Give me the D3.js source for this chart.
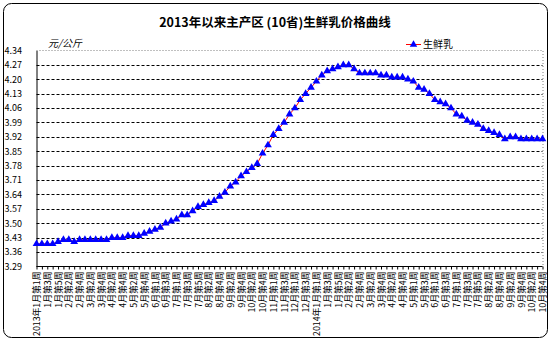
<!DOCTYPE html>
<html><head><meta charset="utf-8">
<script src="https://cdn.jsdelivr.net/npm/d3@7"></script>
<style>body{margin:0;background:#fff}svg{display:block}text{font-family:"Noto Sans CJK SC","DejaVu Sans",sans-serif}</style>
</head><body><svg id="c" width="553" height="341"></svg>
<script>
const title = "2013年以来主产区 (10省)生鲜乳价格曲线";
const unitLabel = "元/公斤";
const seriesName = "生鲜乳";
const yTicks = [3.29,3.36,3.43,3.50,3.57,3.64,3.71,3.78,3.85,3.92,3.99,4.06,4.13,4.20,4.27,4.34];
const weeks = [
"2013年1月第1周","1月第2周","1月第3周","1月第4周","1月第5周",
"2月第1周","2月第2周","2月第3周","2月第4周",
"3月第1周","3月第2周","3月第3周","3月第4周",
"4月第1周","4月第2周","4月第3周","4月第4周",
"5月第1周","5月第2周","5月第3周","5月第4周","5月第5周",
"6月第1周","6月第2周","6月第3周","6月第4周",
"7月第1周","7月第2周","7月第3周","7月第4周","7月第5周",
"8月第1周","8月第2周","8月第3周","8月第4周",
"9月第1周","9月第2周","9月第3周","9月第4周",
"10月第1周","10月第2周","10月第3周","10月第4周","10月第5周",
"11月第1周","11月第2周","11月第3周","11月第4周",
"12月第1周","12月第2周","12月第3周","12月第4周",
"2014年1月第1周","1月第2周","1月第3周","1月第4周","1月第5周",
"2月第1周","2月第2周","2月第3周","2月第4周",
"3月第1周","3月第2周","3月第3周","3月第4周",
"4月第1周","4月第2周","4月第3周","4月第4周","4月第5周",
"5月第1周","5月第2周","5月第3周","5月第4周",
"6月第1周","6月第2周","6月第3周","6月第4周",
"7月第1周","7月第2周","7月第3周","7月第4周","7月第5周",
"8月第1周","8月第2周","8月第3周","8月第4周",
"9月第1周","9月第2周","9月第3周","9月第4周",
"10月第1周","10月第2周","10月第3周","10月第4周"
];
const prices = [
3.40,3.40,3.40,3.40,3.41,3.42,3.42,3.41,3.42,3.42,
3.42,3.42,3.42,3.42,3.43,3.43,3.43,3.44,3.44,3.44,
3.45,3.46,3.47,3.48,3.50,3.51,3.52,3.54,3.54,3.56,
3.58,3.59,3.60,3.61,3.63,3.65,3.68,3.70,3.73,3.75,
3.77,3.79,3.84,3.88,3.93,3.96,3.99,4.03,4.06,4.10,
4.13,4.16,4.19,4.22,4.24,4.25,4.26,4.27,4.27,4.25,
4.23,4.23,4.23,4.23,4.22,4.22,4.21,4.21,4.21,4.20,
4.19,4.16,4.15,4.13,4.10,4.09,4.08,4.06,4.03,4.02,
4.00,3.99,3.98,3.96,3.95,3.94,3.93,3.91,3.92,3.92,
3.91,3.91,3.91,3.91,3.91
];

const svg = d3.select("#c");
const L = 36.5, R = 542.5, T = 50.5, B = 266.5;
const idx = d3.range(weeks.length);
const x = d3.scalePoint().domain(idx).range([L, R]);
const y = d3.scaleLinear().domain([3.29, 4.34]).range([B, T]);

// outer rounded frame
svg.append("rect").attr("x",3.5).attr("y",3.5).attr("width",544).attr("height",334)
  .attr("rx",8).attr("fill","#fff").attr("stroke","#000").attr("stroke-width",1);

// title
svg.append("text").attr("x",275).attr("y",27).attr("text-anchor","middle")
  .attr("font-size",12.5).attr("font-weight","bold").text(title);

// unit
svg.append("text").attr("x",48).attr("y",47).attr("font-size",10).attr("font-style","italic").text(unitLabel);

// legend
svg.append("line").attr("x1",406).attr("x2",421).attr("y1",44.5).attr("y2",44.5).attr("stroke","#f00");
svg.append("path").attr("d",d3.symbol(d3.symbolTriangle,24)()).attr("transform","translate(413.5,44.5)").attr("fill","#00f");
svg.append("text").attr("x",423).attr("y",48).attr("font-size",10).text(seriesName);

// gridlines
svg.append("g").selectAll("line").data(yTicks.filter(v => v > 3.30 && v < 4.33)).join("line")
  .attr("x1",L).attr("x2",R).attr("y1",d=>Math.round(y(d))+0.5).attr("y2",d=>Math.round(y(d))+0.5)
  .attr("stroke","#000").attr("stroke-dasharray","3,2");

// plot border top/right dotted
svg.append("path").attr("d",`M${L},${T}H${R+0.5}V${B}`).attr("fill","none")
  .attr("stroke","#808080").attr("stroke-dasharray","1,2");

// y axis
const ya = svg.append("g").attr("transform",`translate(${L},0)`)
  .call(d3.axisLeft(y).tickValues(yTicks).tickFormat(d3.format(".2f")).tickSize(0));
ya.select(".domain").attr("stroke","#000");
ya.selectAll("text").attr("x",-32).attr("text-anchor","start").attr("font-size",9).attr("fill","#000");

// x axis ticks
const xa = svg.append("g").attr("transform",`translate(0,${B})`)
  .call(d3.axisBottom(x).tickSize(3).tickFormat(""));
xa.select(".domain").attr("d",`M${L},0H${R}`).attr("stroke","#000");
xa.selectAll("line").attr("stroke","#000");

// x labels
const xl = svg.append("g").attr("transform",`translate(0,${B})`)
  .call(d3.axisBottom(x).tickValues(idx.filter(i=>i%2===0)).tickFormat(i=>weeks[i]).tickSize(0));
xl.select(".domain").remove();
xl.selectAll("text").attr("transform","rotate(-90)").attr("x",-5).attr("y",0).attr("dy","0.35em")
  .attr("text-anchor","end").attr("font-size",8.8).attr("fill","#000");

// line
svg.append("path").datum(prices).attr("fill","none").attr("stroke","#f00").attr("stroke-width",1)
  .attr("d", d3.line().x((d,i)=>x(i)).y(d=>y(d)));

// markers
svg.append("g").selectAll("path").data(prices).join("path")
  .attr("d", d3.symbol(d3.symbolTriangle, 26)())
  .attr("transform",(d,i)=>`translate(${x(i)},${y(d)})`)
  .attr("fill","#00f");
</script></body></html>
